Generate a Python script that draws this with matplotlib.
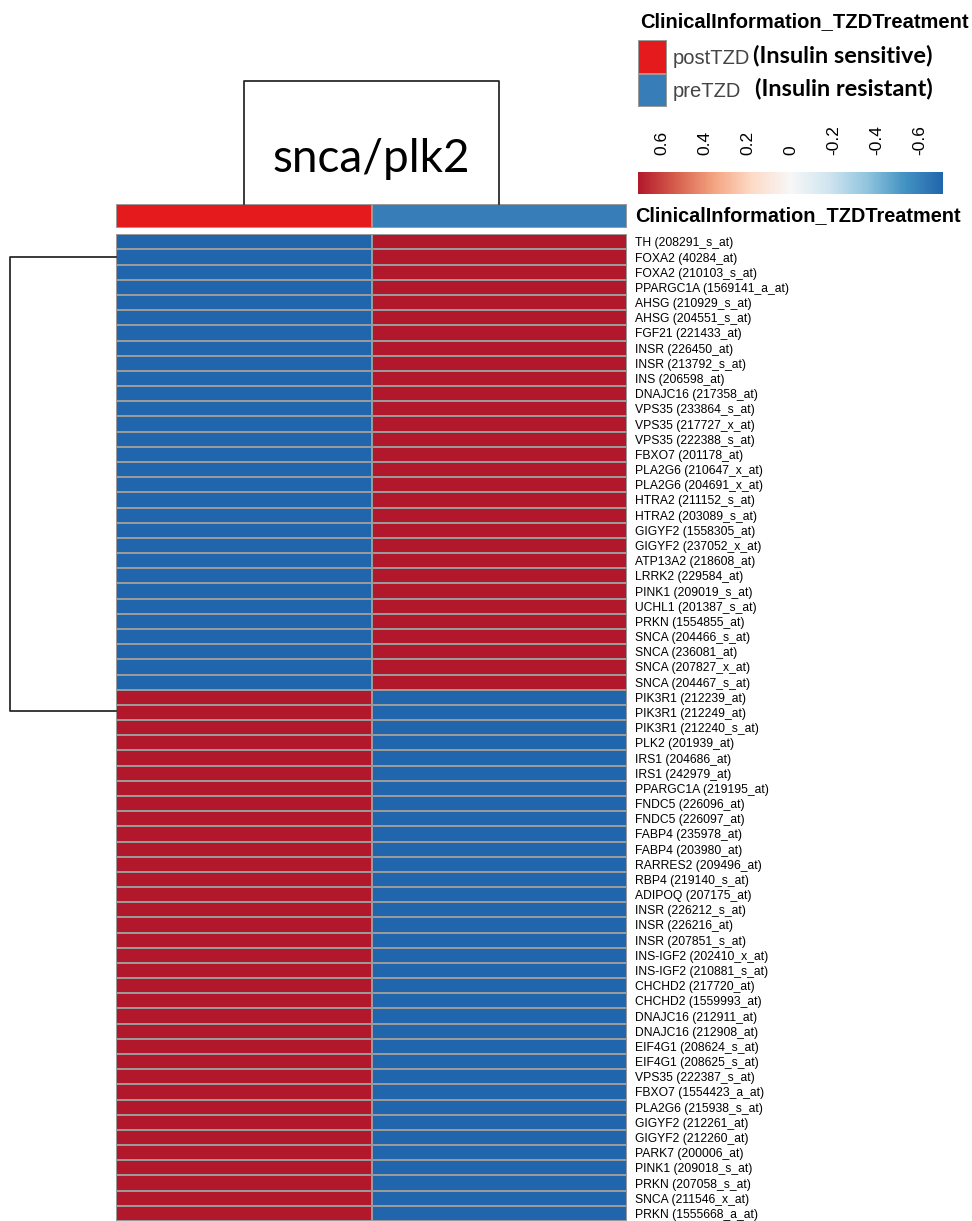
import numpy as np
import matplotlib.pyplot as plt
from matplotlib.colors import LinearSegmentedColormap, ListedColormap, Normalize
from matplotlib.cm import ScalarMappable

# row labels, in heatmap order (top to bottom)
genes = [
    "TH (208291_s_at)", "FOXA2 (40284_at)", "FOXA2 (210103_s_at)", "PPARGC1A (1569141_a_at)",
    "AHSG (210929_s_at)", "AHSG (204551_s_at)", "FGF21 (221433_at)", "INSR (226450_at)",
    "INSR (213792_s_at)", "INS (206598_at)", "DNAJC16 (217358_at)", "VPS35 (233864_s_at)",
    "VPS35 (217727_x_at)", "VPS35 (222388_s_at)", "FBXO7 (201178_at)", "PLA2G6 (210647_x_at)",
    "PLA2G6 (204691_x_at)", "HTRA2 (211152_s_at)", "HTRA2 (203089_s_at)", "GIGYF2 (1558305_at)",
    "GIGYF2 (237052_x_at)", "ATP13A2 (218608_at)", "LRRK2 (229584_at)", "PINK1 (209019_s_at)",
    "UCHL1 (201387_s_at)", "PRKN (1554855_at)", "SNCA (204466_s_at)", "SNCA (236081_at)",
    "SNCA (207827_x_at)", "SNCA (204467_s_at)",
    "PIK3R1 (212239_at)", "PIK3R1 (212249_at)", "PIK3R1 (212240_s_at)", "PLK2 (201939_at)",
    "IRS1 (204686_at)", "IRS1 (242979_at)", "PPARGC1A (219195_at)", "FNDC5 (226096_at)",
    "FNDC5 (226097_at)", "FABP4 (235978_at)", "FABP4 (203980_at)", "RARRES2 (209496_at)",
    "RBP4 (219140_s_at)", "ADIPOQ (207175_at)", "INSR (226212_s_at)", "INSR (226216_at)",
    "INSR (207851_s_at)", "INS-IGF2 (202410_x_at)", "INS-IGF2 (210881_s_at)", "CHCHD2 (217720_at)",
    "CHCHD2 (1559993_at)", "DNAJC16 (212911_at)", "DNAJC16 (212908_at)", "EIF4G1 (208624_s_at)",
    "EIF4G1 (208625_s_at)", "VPS35 (222387_s_at)", "FBXO7 (1554423_a_at)", "PLA2G6 (215938_s_at)",
    "GIGYF2 (212261_at)", "GIGYF2 (212260_at)", "PARK7 (200006_at)", "PINK1 (209018_s_at)",
    "PRKN (207058_s_at)", "SNCA (211546_x_at)", "PRKN (1555668_a_at)",
]

# row-scaled values for the two columns
post_tzd = [
    -0.71, -0.71, -0.71, -0.71, -0.71, -0.71, -0.71, -0.71, -0.71, -0.71,
    -0.71, -0.71, -0.71, -0.71, -0.71, -0.71, -0.71, -0.71, -0.71, -0.71,
    -0.71, -0.71, -0.71, -0.71, -0.71, -0.71, -0.71, -0.71, -0.71, -0.71,
    0.71, 0.71, 0.71, 0.71, 0.71, 0.71, 0.71, 0.71, 0.71, 0.71,
    0.71, 0.71, 0.71, 0.71, 0.71, 0.71, 0.71, 0.71, 0.71, 0.71,
    0.71, 0.71, 0.71, 0.71, 0.71, 0.71, 0.71, 0.71, 0.71, 0.71,
    0.71, 0.71, 0.71, 0.71, 0.71,
]
pre_tzd = [
    0.71, 0.71, 0.71, 0.71, 0.71, 0.71, 0.71, 0.71, 0.71, 0.71,
    0.71, 0.71, 0.71, 0.71, 0.71, 0.71, 0.71, 0.71, 0.71, 0.71,
    0.71, 0.71, 0.71, 0.71, 0.71, 0.71, 0.71, 0.71, 0.71, 0.71,
    -0.71, -0.71, -0.71, -0.71, -0.71, -0.71, -0.71, -0.71, -0.71, -0.71,
    -0.71, -0.71, -0.71, -0.71, -0.71, -0.71, -0.71, -0.71, -0.71, -0.71,
    -0.71, -0.71, -0.71, -0.71, -0.71, -0.71, -0.71, -0.71, -0.71, -0.71,
    -0.71, -0.71, -0.71, -0.71, -0.71,
]

groups = ["postTZD", "preTZD"]
group_notes = ["(Insulin sensitive)", "(Insulin resistant)"]
group_colors = ["#E41A1C", "#377EB8"]

# dendrogram node positions (in row / column units)
row_dend_nodes = [1.5, 31.4]
col_dend_nodes = [0.5, 1.5]

cbar_ticks = [0.6, 0.4, 0.2, 0, -0.2, -0.4, -0.6]
cbar_labels = ["0.6", "0.4", "0.2", "0", "-0.2", "-0.4", "-0.6"]

cmap = LinearSegmentedColormap.from_list("rdbu", [
    "#2166AC", "#4393C3", "#92C5DE", "#D1E5F0", "#F7F7F7",
    "#FDDBC7", "#F4A582", "#D6604D", "#B2182B"])
norm = Normalize(-0.71, 0.71)

W, H = 972, 1221
fig = plt.figure(figsize=(W / 100, H / 100), dpi=100)


def box(x0, y0, x1, y1):
    # pixel box -> figure fraction rect
    return [x0 / W, 1 - y1 / H, (x1 - x0) / W, (y1 - y0) / H]


# heatmap
mat = np.column_stack([post_tzd, pre_tzd])
ax = fig.add_axes(box(116, 234.3, 627, 1221))
ax.pcolormesh(mat, cmap=cmap, norm=norm, edgecolors="#9a9a9a", linewidth=1.1)
ax.set_xlim(0, 2)
ax.set_ylim(len(genes), 0)
ax.set_xticks([])
ax.yaxis.tick_right()
ax.set_yticks(np.arange(len(genes)) + 0.5)
ax.set_yticklabels(genes, fontsize=8.7, family="Liberation Sans")
ax.tick_params(axis="y", length=0, pad=6)
for s in ax.spines.values():
    s.set_visible(False)

# annotation bar
ax_an = fig.add_axes(box(116, 204.3, 627, 227.7))
ax_an.pcolormesh([[0, 1]], cmap=ListedColormap(group_colors), edgecolors="#9a9a9a", linewidth=1.1)
ax_an.set_xlim(0, 2)
ax_an.set_xticks([])
ax_an.set_yticks([])
for s in ax_an.spines.values():
    s.set_visible(False)
ax_an.text(1.015, 0.5, "ClinicalInformation_TZDTreatment", transform=ax_an.transAxes,
           ha="left", va="center", fontsize=14.3, fontweight="bold", family="Liberation Sans")

# column dendrogram
ax_cd = fig.add_axes(box(116, 81, 627, 204.3))
ax_cd.plot([col_dend_nodes[0], col_dend_nodes[0], col_dend_nodes[1], col_dend_nodes[1]],
           [0, 1, 1, 0], color="#2b2b2b", lw=1.3, clip_on=False)
ax_cd.set_xlim(0, 2)
ax_cd.set_ylim(0, 1)
ax_cd.axis("off")
ax_cd.text(1, 0.37, "snca/plk2", ha="center", va="center", fontsize=33, family="Lato")

# row dendrogram
ax_rd = fig.add_axes(box(10, 234.3, 116, 1221))
ax_rd.plot([1, 0, 0, 1], [row_dend_nodes[0], row_dend_nodes[0], row_dend_nodes[1], row_dend_nodes[1]],
           color="#2b2b2b", lw=1.3, clip_on=False)
ax_rd.set_xlim(0, 1)
ax_rd.set_ylim(len(genes), 0)
ax_rd.axis("off")

# annotation legend
ax_lg = fig.add_axes(box(638, 40, 667, 107))
ax_lg.pcolormesh([[0], [1]], cmap=ListedColormap(group_colors), edgecolors="#9a9a9a", linewidth=1.1)
ax_lg.set_ylim(2, 0)
ax_lg.axis("off")
for i, (g, note) in enumerate(zip(groups, group_notes)):
    ax_lg.text(1.2, i + 0.55, g, ha="left", va="center", fontsize=14.5,
               family="Liberation Sans", color="#444444")
    ax_lg.text(3.95 + 0.07 * i, i + 0.45, note, ha="left", va="center", fontsize=16.9,
               fontweight="bold", family="Lato")
fig.text(640 / W, 1 - 22 / H, "ClinicalInformation_TZDTreatment", ha="left", va="center",
         fontsize=14.5, fontweight="bold", family="Liberation Sans")

# colour key
cax = fig.add_axes(box(638, 172, 943, 194))
cb = fig.colorbar(ScalarMappable(norm=norm, cmap=cmap), cax=cax, orientation="horizontal")
cb.outline.set_visible(False)
cax.invert_xaxis()
cb.set_ticks(cbar_ticks)
cax.xaxis.set_ticks_position("top")
cax.set_xticklabels(cbar_labels, rotation=90, fontsize=12.5, family="Liberation Sans")
cax.tick_params(axis="x", length=0, pad=12)

fig.savefig("out.png", dpi=100)
